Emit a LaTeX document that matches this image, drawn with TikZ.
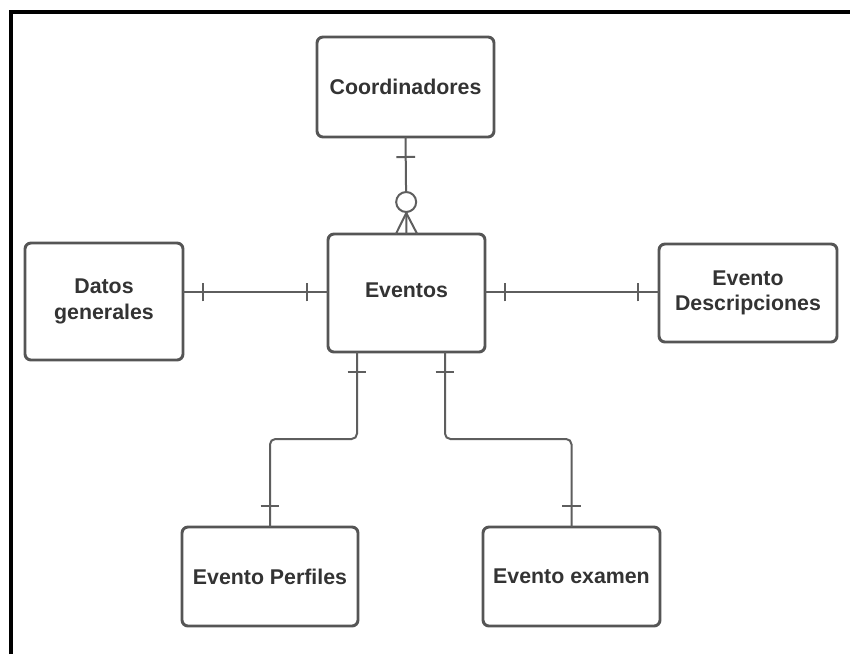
\documentclass[tikz,border=0pt]{standalone}
\usepackage{fontspec}
\setmainfont{Liberation Sans}
\usetikzlibrary{decorations.markings}
\definecolor{boxline}{HTML}{555555}
\definecolor{connline}{HTML}{5E5E5E}
\definecolor{txt}{HTML}{333333}
\tikzset{
  entity/.style={draw=boxline, line width=2.2pt, rounded corners=4.5pt, fill=white,
    inner sep=0pt, outer sep=0pt, align=center, text=txt,
    font=\fontsize{16}{19.2}\selectfont\bfseries},
  conn/.style={draw=connline, line width=1.5pt},
  onestart/.style={postaction={decorate,decoration={markings,
    mark=at position 15pt with {\draw[connline,line width=1.5pt] (0,-7pt) -- (0,7pt);}}}},
  oneend/.style={postaction={decorate,decoration={markings,
    mark=at position -15.5pt with {\draw[connline,line width=1.5pt] (0,-7pt) -- (0,7pt);}}}},
  zeromanyend/.style={postaction={decorate,decoration={markings,
    mark=at position -24pt with {\draw[connline,line width=1.5pt,fill=white] (0,0) circle (7.5pt);},
    mark=at position -15.75pt with {\draw[connline,line width=1.5pt] (0,0) -- (15.75pt,8pt) (0,0) -- (15.75pt,-8pt);}}}}
}
\begin{document}
\begin{tikzpicture}[x=0.75pt,y=-0.75pt]
\useasboundingbox (0,0) rectangle (850,654);
\fill[white] (0,0) rectangle (850,654);
\draw[line width=3pt, black] (11,654) -- (11,12) -- (850,12);

\node[entity, minimum width=132.75pt, minimum height=75pt] (coord) at (405.5,87) {Coordinadores};
\node[entity, minimum width=117.75pt, minimum height=88.5pt, text depth=5pt] (ev) at (406.5,293) {Eventos};
\node[entity, minimum width=118.5pt, minimum height=87.75pt] (datos) at (104,301.5) {Datos\\generales};
\node[entity, minimum width=133.5pt, minimum height=73.5pt] (desc) at (748,293) {Evento\\Descripciones};
\node[entity, minimum width=132pt, minimum height=74.25pt] (perf) at (270,576.5) {Evento Perfiles};
\node[entity, minimum width=132.75pt, minimum height=74.25pt] (exam) at (571.5,576.5) {Evento examen};

\draw[conn, onestart, zeromanyend] (coord.south) -- (ev.north);
\draw[conn, onestart, oneend] (datos.east |- 0,292) -- (ev.west |- 0,292);
\draw[conn, onestart, oneend] (ev.east |- 0,292) -- (desc.west |- 0,292);
\draw[conn, onestart, oneend, rounded corners=4pt] ([xshift=21.75pt]ev.south west) -- ++(0,87) -| (perf.north);
\draw[conn, onestart, oneend, rounded corners=4pt] ([xshift=-30pt]ev.south east) -- ++(0,87) -| (exam.north);
\end{tikzpicture}
\end{document}
